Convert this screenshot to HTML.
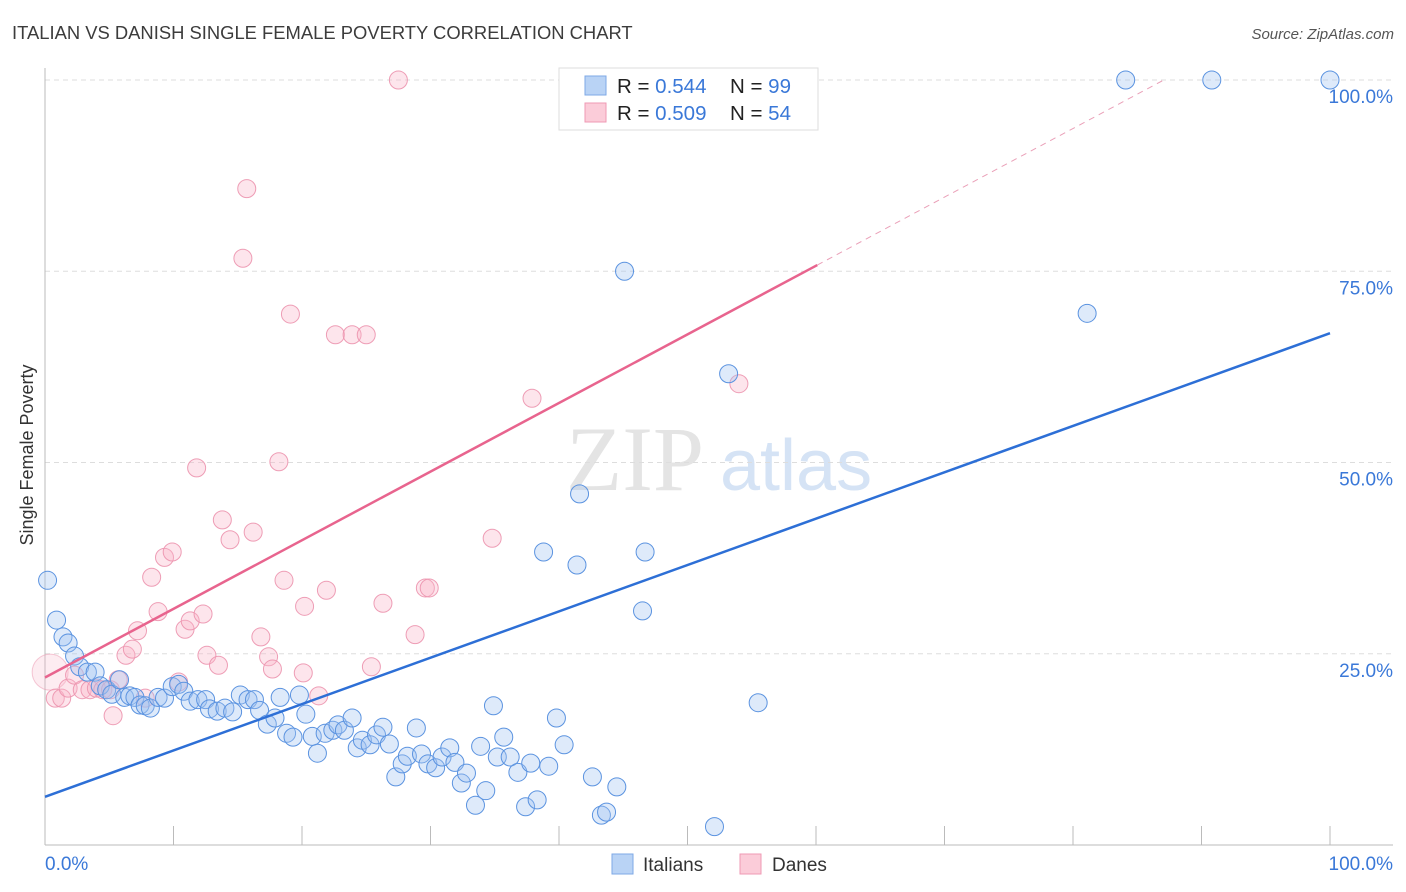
<!DOCTYPE html>
<html><head><meta charset="utf-8"><style>
body{margin:0;background:#fff;font-family:"Liberation Sans",sans-serif}
svg{display:block}
</style></head><body>
<svg id="chart" width="1406" height="892" xmlns="http://www.w3.org/2000/svg" font-family="Liberation Sans, sans-serif">
<text x="12" y="39" font-size="18.4" fill="#3c3c3c">ITALIAN VS DANISH SINGLE FEMALE POVERTY CORRELATION CHART</text>
<text x="1394" y="39" font-size="15" fill="#555" text-anchor="end" font-style="italic">Source: ZipAtlas.com</text>
<g>
<text x="635" y="490" font-size="92" fill="#e4e4e4" text-anchor="middle" font-family="Liberation Serif, serif">ZIP</text>
<text x="720" y="490" font-size="72" fill="#d5e3f5">atlas</text>
</g>
<g id="grid"></g>
<g id="axes"></g>
<g id="pts"></g>
<g id="lines"></g>
<text transform="translate(33,455) rotate(-90)" font-size="18" fill="#333" text-anchor="middle">Single Female Poverty</text>
<g>
<rect x="559" y="68" width="259" height="62" fill="#fff" stroke="#ddd"/>
<rect x="585" y="76" width="21" height="19" fill="#b9d3f5" stroke="#7ea8e6"/>
<rect x="585" y="103" width="21" height="19" fill="#fbccd9" stroke="#ef9ab4"/>
<text x="617" y="93" font-size="20.5" fill="#222">R = <tspan fill="#3a78d8">0.544</tspan></text>
<text x="730" y="93" font-size="20.5" fill="#222">N = <tspan fill="#3a78d8">99</tspan></text>
<text x="617" y="120" font-size="20.5" fill="#222">R = <tspan fill="#3a78d8">0.509</tspan></text>
<text x="730" y="120" font-size="20.5" fill="#222">N = <tspan fill="#3a78d8">54</tspan></text>
</g>
<g>
<rect x="612" y="854" width="21" height="20" fill="#b9d3f5" stroke="#7ea8e6"/>
<text x="643" y="871" font-size="19" fill="#333">Italians</text>
<rect x="740" y="854" width="21" height="20" fill="#fbccd9" stroke="#ef9ab4"/>
<text x="772" y="871" font-size="19" fill="#333">Danes</text>
</g>
</svg>
<script>
const blueX=[0.2,0.9,1.4,1.8,2.3,2.7,3.3,3.9,4.3,4.8,5.2,5.8,6.2,6.6,7.0,7.4,7.8,8.2,8.8,9.3,9.9,10.4,10.8,11.3,11.9,12.5,12.8,13.4,14.0,14.6,15.2,15.8,16.3,16.7,17.3,17.9,18.3,18.8,19.3,19.8,20.3,20.8,21.2,21.8,22.4,22.8,23.3,23.9,24.3,24.7,25.3,25.8,26.3,26.8,27.3,27.8,28.2,28.9,29.3,29.8,30.4,30.9,31.5,31.9,32.4,32.8,33.5,33.9,34.3,34.9,35.2,35.7,36.2,36.8,37.4,37.8,38.3,39.2,39.8,40.4,38.8,41.4,41.6,42.6,43.3,43.7,44.5,45.1,46.5,46.7,52.1,53.2,55.5,81.1,84.1,90.8,100,49.7];
const blueY=[34.6,29.4,27.2,26.4,24.7,23.3,22.6,22.6,20.8,20.3,19.7,21.6,19.3,19.5,19.3,18.3,18.2,17.9,19.3,19.2,20.7,21.0,20.1,18.8,19.0,19.0,17.8,17.5,17.9,17.4,19.6,19.0,19.0,17.6,15.8,16.6,19.3,14.6,14.1,19.6,17.1,14.2,12.0,14.6,15.0,15.7,15.0,16.6,12.7,13.7,13.1,14.4,15.4,13.2,8.9,10.6,11.6,15.3,11.9,10.6,10.1,11.5,12.7,10.8,8.1,9.4,5.2,12.9,7.1,18.2,11.5,14.1,11.5,9.5,5.0,10.7,5.9,10.3,16.6,13.1,38.3,36.6,45.9,8.9,3.9,4.3,7.6,75.0,30.6,38.3,2.4,61.6,18.6,69.5,100,100,100,100];
const pinkX=[0.4,0.8,1.3,1.8,2.3,2.9,3.5,4.0,4.5,5.1,5.3,5.7,6.3,6.8,7.2,7.8,8.3,8.8,9.3,9.9,10.4,10.9,11.3,11.8,12.3,12.6,13.5,13.8,14.4,15.4,15.7,16.2,16.8,17.4,17.7,18.2,18.6,19.1,20.1,20.2,21.3,21.9,22.6,23.9,25.0,25.4,26.3,27.5,28.8,29.6,29.9,34.8,37.9,54.0];
const pinkY=[22.6,19.2,19.2,20.5,22.2,20.3,20.3,20.5,20.3,20.3,16.9,21.6,24.8,25.6,28.0,19.2,35.0,30.5,37.6,38.3,21.3,28.2,29.3,49.3,30.2,24.8,23.5,42.5,39.9,76.7,85.8,40.9,27.2,24.6,23.0,50.1,34.6,69.4,22.5,31.2,19.5,33.3,66.7,66.7,66.7,23.3,31.6,100,27.5,33.6,33.6,40.1,58.4,60.3];
const yTicks=[25,50,75,100];
const yTickLabels=["25.0%","50.0%","75.0%","100.0%"];
const xTicks=[0,10,20,30,40,50,60,70,80,90,100];
const blueTrend=[6.3,66.9];
const pinkTrend=[21.9,0.897,60.1];
const X0=45,X1=1330,Y0=845,Y100=80;
const sx=v=>X0+(X1-X0)*v/100, sy=v=>Y0-(Y0-Y100)*v/100;
const NS="http://www.w3.org/2000/svg";
function mk(t,a,p){const e=document.createElementNS(NS,t);for(const k in a)e.setAttribute(k,a[k]);p.appendChild(e);return e;}
const grid=document.getElementById('grid'),axes=document.getElementById('axes');
yTicks.forEach((v,i)=>{
 const l=mk('line',{x1:X0,x2:1393,y1:sy(v),y2:sy(v),stroke:'#ddd','stroke-dasharray':'5,4'},grid);
 
 
 const t=mk('text',{x:1393,y:sy(v)+23,'font-size':19,fill:'#3a78d8','text-anchor':'end'},axes);
 t.textContent=yTickLabels[i];
 
 
});
mk('line',{x1:X0,x2:X0,y1:68,y2:Y0,stroke:'#bbb'},axes);
mk('line',{x1:X0,x2:1393,y1:Y0,y2:Y0,stroke:'#bbb'},axes);
xTicks.forEach(v=>{const l=mk('line',{x1:sx(v),x2:sx(v),y1:826,y2:Y0,stroke:'#bbb'},axes);
 
 });
let t=mk('text',{x:45,y:870,'font-size':19,fill:'#3a78d8'},axes);t.textContent='0.0%';


t=mk('text',{x:1393,y:870,'font-size':19,fill:'#3a78d8','text-anchor':'end'},axes);t.textContent='100.0%';


const pts=document.getElementById('pts');
pinkX.forEach((x,i)=>{const c=mk('circle',{cx:sx(x),cy:sy(pinkY[i]),r:i===0?18:9,fill:i===0?'rgba(248,180,200,0.25)':'rgba(248,180,200,0.35)',stroke:'#ec94ae','stroke-width':1,'stroke-opacity':i===0?0.5:0.9},pts);
 
 });
blueX.forEach((x,i)=>{const c=mk('circle',{cx:sx(x),cy:sy(blueY[i]),r:9,fill:'rgba(160,195,240,0.35)',stroke:'#5b93e0','stroke-width':1},pts);
 
 });
const lines=document.getElementById('lines');
let l=mk('line',{x1:sx(0),y1:sy(blueTrend[0]),x2:sx(100),y2:sy(blueTrend[1]),stroke:'#2d6fd6','stroke-width':2.5},lines);


const pe=pinkTrend[2],xe=(100-pinkTrend[0])/pinkTrend[1];
l=mk('line',{x1:sx(0),y1:sy(pinkTrend[0]),x2:sx(pe),y2:sy(pinkTrend[0]+pinkTrend[1]*pe),stroke:'#e8648e','stroke-width':2.5},lines);


l=mk('line',{x1:sx(pe),y1:sy(pinkTrend[0]+pinkTrend[1]*pe),x2:sx(xe),y2:sy(100),stroke:'#eaa0b8','stroke-width':1,'stroke-dasharray':'6,5'},lines);


</script>
</body></html>
